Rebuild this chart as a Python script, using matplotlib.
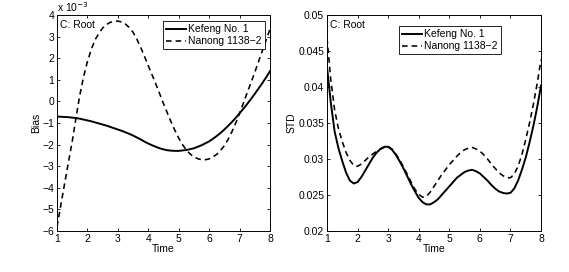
import matplotlib
matplotlib.use("Agg")
import matplotlib.pyplot as plt

plt.rcParams['font.family'] = ['Liberation Sans', 'DejaVu Sans']
plt.rcParams['font.size'] = 7.5

# time axis (shared by both panels), step 0.125
time = [1.000, 1.125, 1.250, 1.375, 1.500, 1.625, 1.750, 1.875,
        2.000, 2.125, 2.250, 2.375, 2.500, 2.625, 2.750, 2.875,
        3.000, 3.125, 3.250, 3.375, 3.500, 3.625, 3.750, 3.875,
        4.000, 4.125, 4.250, 4.375, 4.500, 4.625, 4.750, 4.875,
        5.000, 5.125, 5.250, 5.375, 5.500, 5.625, 5.750, 5.875,
        6.000, 6.125, 6.250, 6.375, 6.500, 6.625, 6.750, 6.875,
        7.000, 7.125, 7.250, 7.375, 7.500, 7.625, 7.750, 7.875,
        8.000]

# bias, in units of 1e-3
bias_kefeng = [-0.70, -0.71, -0.72, -0.73, -0.75, -0.77, -0.80, -0.84,
               -0.88, -0.92, -0.97, -1.02, -1.07, -1.12, -1.18, -1.24,
               -1.30, -1.36, -1.43, -1.50, -1.58, -1.67, -1.76, -1.86,
               -1.95, -2.03, -2.10, -2.17, -2.22, -2.26, -2.28, -2.29,
               -2.29, -2.27, -2.25, -2.21, -2.17, -2.10, -2.03, -1.94,
               -1.85, -1.73, -1.60, -1.46, -1.30, -1.13, -0.95, -0.76,
               -0.55, -0.34, -0.12, 0.11, 0.35, 0.60, 0.85, 1.12,
               1.40]
bias_nanong = [-5.80, -4.80, -3.80, -2.82, -1.85, -0.75, 0.30, 1.15,
               1.85, 2.40, 2.85, 3.15, 3.40, 3.56, 3.66, 3.71,
               3.72, 3.68, 3.58, 3.42, 3.20, 2.88, 2.50, 2.09,
               1.65, 1.23, 0.80, 0.35, -0.10, -0.53, -0.95, -1.34,
               -1.70, -2.00, -2.25, -2.43, -2.57, -2.65, -2.70, -2.70,
               -2.66, -2.57, -2.45, -2.27, -2.05, -1.75, -1.40, -1.00,
               -0.55, -0.08, 0.40, 0.87, 1.35, 1.85, 2.35, 2.85,
               3.35]

# standard deviation
std_kefeng = [0.0428, 0.0378, 0.0338, 0.0315, 0.0297, 0.0281, 0.0270, 0.0266,
              0.0268, 0.0275, 0.0284, 0.0293, 0.0302, 0.0309, 0.0314, 0.0317,
              0.0317, 0.0313, 0.0306, 0.0297, 0.0287, 0.0276, 0.0265, 0.0255,
              0.0246, 0.0240, 0.0237, 0.0237, 0.0240, 0.0244, 0.0250, 0.0256,
              0.0262, 0.0268, 0.0274, 0.0278, 0.0282, 0.0284, 0.0285, 0.0283,
              0.0280, 0.0275, 0.0270, 0.0264, 0.0259, 0.0255, 0.0253, 0.0252,
              0.0253, 0.0259, 0.0270, 0.0285, 0.0302, 0.0323, 0.0346, 0.0372,
              0.0402]
std_nanong = [0.0468, 0.0410, 0.0368, 0.0342, 0.0324, 0.0309, 0.0298, 0.0291,
              0.0290, 0.0293, 0.0298, 0.0303, 0.0307, 0.0311, 0.0314, 0.0316,
              0.0317, 0.0314, 0.0307, 0.0299, 0.0289, 0.0279, 0.0268, 0.0258,
              0.0251, 0.0247, 0.0248, 0.0254, 0.0262, 0.0270, 0.0278, 0.0285,
              0.0292, 0.0298, 0.0304, 0.0309, 0.0313, 0.0315, 0.0316, 0.0314,
              0.0311, 0.0306, 0.0300, 0.0293, 0.0287, 0.0281, 0.0277, 0.0274,
              0.0274, 0.0279, 0.0290, 0.0306, 0.0327, 0.0350, 0.0376, 0.0405,
              0.0438]

labels = ['Kefeng No. 1', 'Nanong 1138\u22122']
x_ticks = [1, 2, 3, 4, 5, 6, 7, 8]
bias_ticks = [-6, -5, -4, -3, -2, -1, 0, 1, 2, 3, 4]
std_ticks = [0.02, 0.025, 0.03, 0.035, 0.04, 0.045, 0.05]
std_ticklabels = ['0.02', '0.025', '0.03', '0.035', '0.04', '0.045', '0.05']


def style_axes(ax):
    ax.tick_params(direction='in', top=True, right=True, length=2.5, width=0.6, pad=2)
    for s in ax.spines.values():
        s.set_linewidth(0.7)
    ax.set_xlim(1, 8)
    ax.set_xticks(x_ticks)
    ax.set_xlabel('Time', labelpad=0)
    ax.text(0.012, 0.975, 'C: Root', transform=ax.transAxes, ha='left', va='top')


def add_legend(ax, anchor):
    leg = ax.legend(loc='upper left', bbox_to_anchor=anchor, borderaxespad=0,
                    fancybox=False, edgecolor='black', framealpha=1, handlelength=1.9,
                    handletextpad=0.2, borderpad=0.3, labelspacing=0.2)
    leg.get_frame().set_linewidth(0.6)


fig = plt.figure(figsize=(5.69, 2.72), dpi=100)
ax1 = fig.add_axes([0.1002, 0.1507, 0.3743, 0.794])
ax2 = fig.add_axes([0.5747, 0.1507, 0.3761, 0.794])

ax1.plot(time, bias_kefeng, color='black', lw=1.4, label=labels[0])
ax1.plot(time, bias_nanong, color='black', lw=1.15, dashes=(3.5, 2.5), label=labels[1])
ax1.set_ylim(-6, 4)
ax1.set_yticks(bias_ticks)
ax1.set_yticklabels([str(t).replace('-', '\u2212') for t in bias_ticks])
ax1.set_ylabel('Bias', labelpad=1)
ax1.text(0.0, 1.005, 'x 10$^{-3}$', transform=ax1.transAxes, ha='left', va='bottom')
style_axes(ax1)
add_legend(ax1, (0.498, 0.972))

ax2.plot(time, std_kefeng, color='black', lw=1.4, label=labels[0])
ax2.plot(time, std_nanong, color='black', lw=1.15, dashes=(3.5, 2.5), label=labels[1])
ax2.set_ylim(0.02, 0.05)
ax2.set_yticks(std_ticks)
ax2.set_yticklabels(std_ticklabels)
ax2.set_ylabel('STD', labelpad=1)
style_axes(ax2)
add_legend(ax2, (0.336, 0.949))

fig.savefig('out.png', dpi=100)
